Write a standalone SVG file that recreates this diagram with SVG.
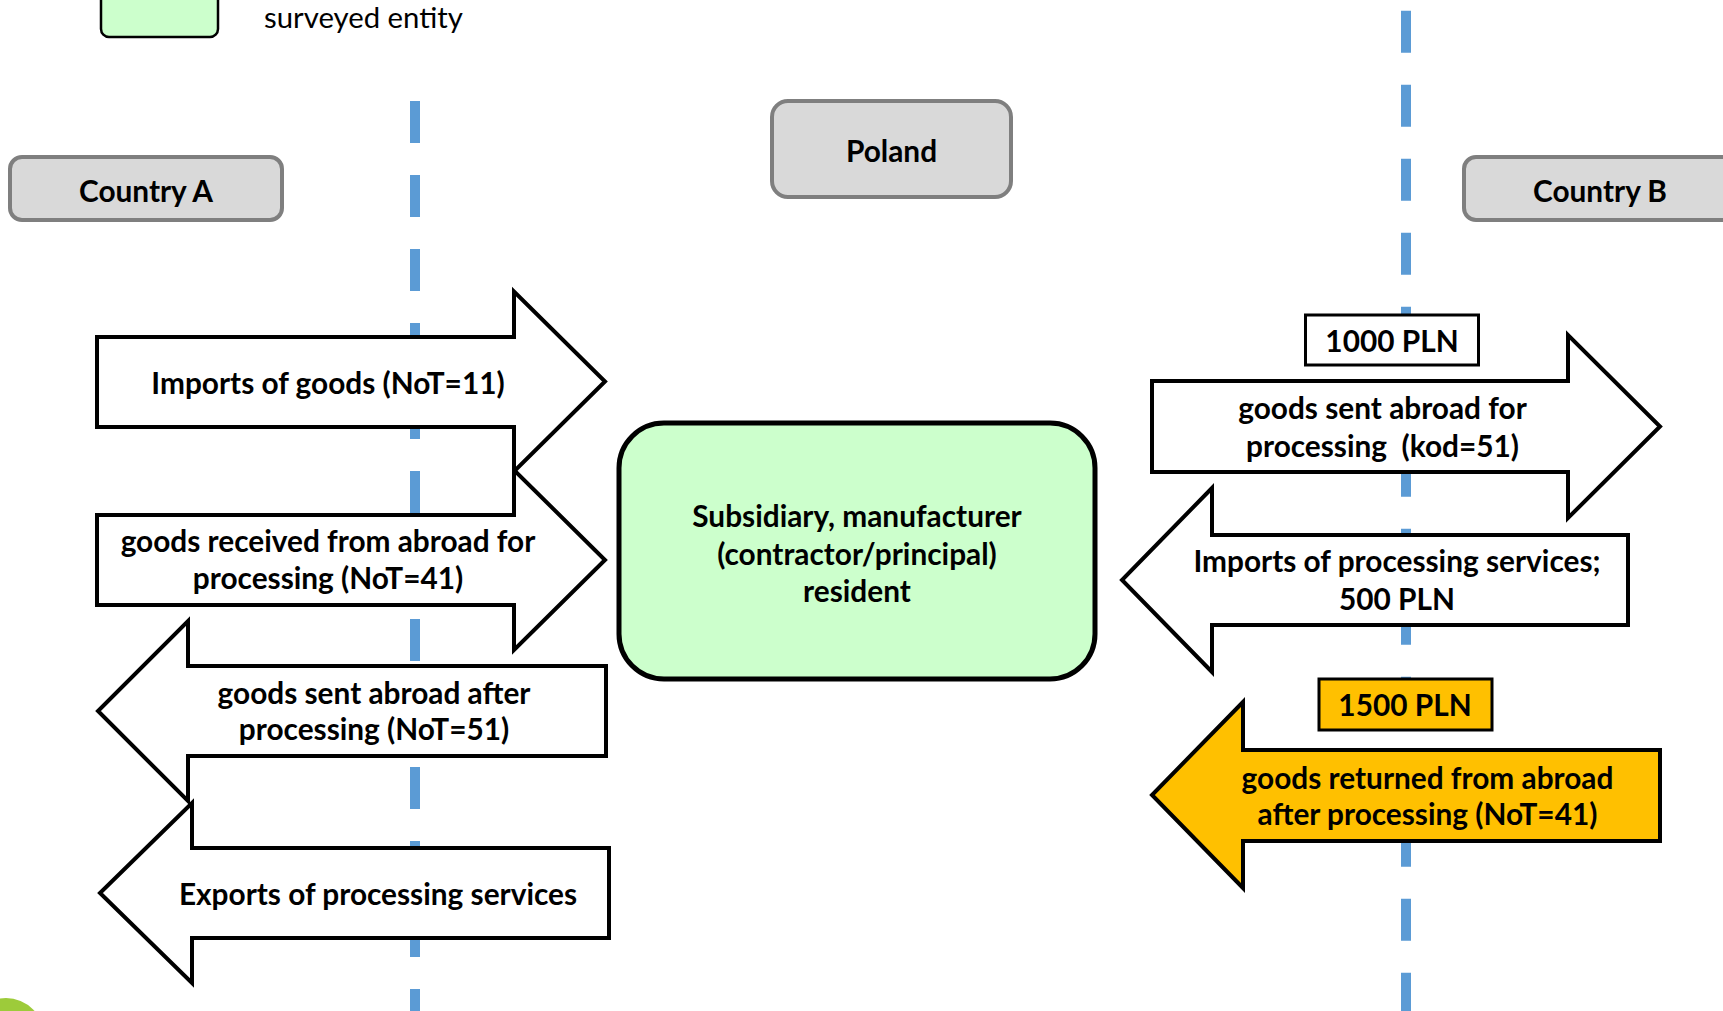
<svg xmlns="http://www.w3.org/2000/svg" width="1723" height="1011" viewBox="0 0 1723 1011">
  <style>
    text { font-family: Lato, "Open Sans", "Liberation Sans", sans-serif; fill: #000; }
    .lbl { font-size: 29.8px; font-weight: 700; text-anchor: middle; }
    .legend-text { font-size: 29.3px; font-weight: 400; }
    .header { fill: #d9d9d9; stroke: #7f7f7f; stroke-width: 4; }
    .arrow { fill: #ffffff; stroke: #000; stroke-width: 4; stroke-linejoin: miter; }
    .arrow.hl { fill: #ffc000; }
    .amount { fill: #ffffff; stroke: #000; stroke-width: 3; }
    .amount.hl { fill: #ffc000; }
    .entity { fill: #ccffcc; stroke: #000; }
    .border { fill: none; stroke: #5b9bd5; stroke-width: 10; stroke-dasharray: 42 32; }
  </style>

  <rect width="1723" height="1011" fill="#ffffff"/>

  <!-- legend -->
  <g id="legend">
    <rect class="entity" x="101" y="-20" width="117" height="57" rx="8" stroke-width="2.5"/>
    <text class="legend-text" x="264" y="28">surveyed entity</text>
  </g>

  <!-- decorative corner disc -->
  <circle cx="6" cy="1036" r="38" fill="#9dcb3a"/>

  <!-- border lines between countries -->
  <g id="connectors">
    <line class="border" x1="415" y1="101" x2="415" y2="1011"/>
    <line class="border" x1="1406" y1="10.7" x2="1406" y2="1011"/>
  </g>

  <!-- country headers -->
  <g id="country-a">
    <rect class="header" x="10" y="157" width="272" height="63" rx="12"/>
    <text class="lbl" x="146" y="201.5">Country A</text>
  </g>
  <g id="poland">
    <rect class="header" x="772" y="101" width="239" height="96" rx="16"/>
    <text class="lbl" x="891.5" y="161.5">Poland</text>
  </g>
  <g id="country-b">
    <rect class="header" x="1464" y="157" width="272" height="63" rx="12"/>
    <text class="lbl" x="1600" y="201.5">Country B</text>
  </g>

  <!-- surveyed entity -->
  <g id="entity">
    <rect class="entity" x="619" y="423" width="476" height="256" rx="45" stroke-width="5"/>
    <text class="lbl" x="857" y="526.5">Subsidiary, manufacturer</text>
    <text class="lbl" x="857" y="564.5">(contractor/principal)</text>
    <text class="lbl" x="857" y="601.5">resident</text>
  </g>

  <!-- flows with country A -->
  <g id="imports-goods">
    <path class="arrow" d="M97,337 H514 V291.5 L605,381.5 L514,471.5 V427 H97 Z"/>
    <text class="lbl" x="328" y="393.5">Imports of goods (NoT=11)</text>
  </g>
  <g id="goods-received">
    <path class="arrow" d="M97,515 H514 V470 L605,560 L514,650 V605 H97 Z"/>
    <text class="lbl" x="328" y="551.5">goods received from abroad for</text>
    <text class="lbl" x="328" y="588.5">processing (NoT=41)</text>
  </g>
  <g id="goods-sent-after">
    <path class="arrow" d="M606,666 H188 V621 L98,711 L188,801 V756 H606 Z"/>
    <text class="lbl" x="374" y="703.5">goods sent abroad after</text>
    <text class="lbl" x="374" y="739.5">processing (NoT=51)</text>
  </g>
  <g id="exports-services">
    <path class="arrow" d="M609,848 H192 V803 L100,893 L192,983 V938 H609 Z"/>
    <text class="lbl" x="378" y="904.5">Exports of processing services</text>
  </g>

  <!-- flows with country B -->
  <g id="amount-1000">
    <rect class="amount" x="1305.5" y="315" width="173" height="50"/>
    <text class="lbl" x="1392" y="351.5">1000 PLN</text>
  </g>
  <g id="goods-sent-for">
    <path class="arrow" d="M1152,381 H1568 V335 L1660,426.5 L1568,518 V472 H1152 Z"/>
    <text class="lbl" x="1382.5" y="418.5">goods sent abroad for</text>
    <text class="lbl" x="1382.5" y="456.5" style="white-space:pre">processing  (kod=51)</text>
  </g>
  <g id="imports-services">
    <path class="arrow" d="M1628,535 H1212 V488 L1122,580 L1212,672 V625 H1628 Z"/>
    <text class="lbl" x="1397" y="571.5">Imports of processing services;</text>
    <text class="lbl" x="1397" y="609.5">500 PLN</text>
  </g>
  <g id="amount-1500">
    <rect class="amount hl" x="1319" y="679" width="173" height="51"/>
    <text class="lbl" x="1405" y="715.5">1500 PLN</text>
  </g>
  <g id="goods-returned">
    <path class="arrow hl" d="M1660,750 H1243 V702 L1152,795 L1243,888 V841 H1660 Z"/>
    <text class="lbl" x="1427.5" y="788.5">goods returned from abroad</text>
    <text class="lbl" x="1427.5" y="824.5">after processing (NoT=41)</text>
  </g>
</svg>
